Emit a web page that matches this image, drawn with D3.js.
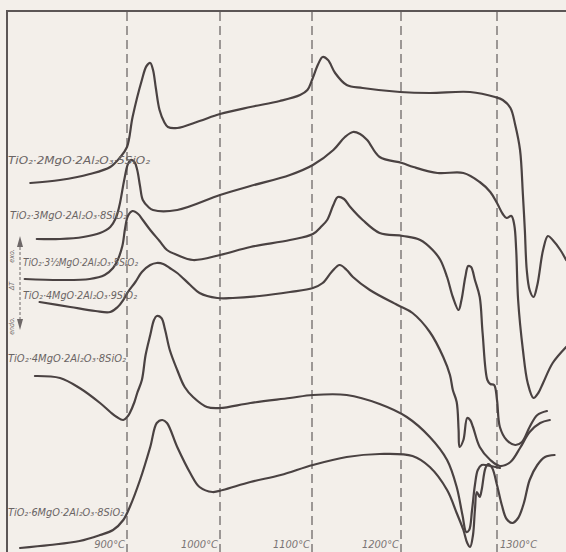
<!DOCTYPE html>
<html>
<head>
<meta charset="utf-8">
<script src="https://cdn.jsdelivr.net/npm/d3@7"></script>
<style>
  html, body { margin: 0; padding: 0; background: #f3efea; }
  svg { display: block; }
</style>
</head>
<body>
<div id="chart"></div>
<script>
// temperature grid (dashed lines) and their labels
var tempTicks = [900, 1000, 1100, 1200, 1300];
var tickLabels = ['900°C', '1000°C', '1100°C', '1200°C', '1300°C'];

// sample names, top to bottom
var sampleNames = [
  'TiO₂·2MgO·2Al₂O₃·5SiO₂',
  'TiO₂·3MgO·2Al₂O₃·8SiO₂',
  'TiO₂·3½MgO·2Al₂O₃·5SiO₂',
  'TiO₂·4MgO·2Al₂O₃·9SiO₂',
  'TiO₂·4MgO·2Al₂O₃·8SiO₂',
  'TiO₂·6MgO·2Al₂O₃·8SiO₂'
];

// DTA traces: temperature (°C) and pen deflection (chart units, up = exo)
var c1T = [796, 828, 860, 882, 892, 900, 906, 916, 921, 925, 928, 931, 935, 940, 944, 954, 978, 1000, 1033, 1065, 1087, 1095, 1100, 1107, 1112, 1118, 1126, 1139, 1157, 1199, 1230, 1272, 1298, 1306, 1314, 1319, 1324, 1327, 1329, 1331, 1334, 1338, 1342, 1348, 1353, 1358, 1366, 1372];
var c1V = [369, 372, 378, 385, 394, 405, 435, 472, 486, 489, 482, 464, 442, 430, 425, 424, 431, 438, 445, 451, 457, 462, 472, 488, 495, 492, 479, 467, 464, 460, 459, 460, 455, 452, 444, 427, 402, 357, 322, 282, 262, 255, 267, 302, 316, 312, 302, 292];

var c2T = [803, 828, 853, 871, 882, 888, 892, 897, 901, 904, 908, 911, 914, 917, 923, 928, 954, 1000, 1033, 1076, 1101, 1124, 1137, 1146, 1154, 1162, 1176, 1201, 1213, 1238, 1265, 1282, 1293, 1300, 1306, 1310, 1315, 1318, 1320, 1322, 1327, 1332, 1338, 1343, 1348, 1358, 1372];
var c2V = [313, 313, 315, 319, 325, 334, 347, 372, 388, 392, 390, 382, 366, 352, 345, 342, 342, 357, 366, 377, 387, 402, 415, 420, 418, 412, 395, 389, 385, 379, 379, 370, 360, 349, 338, 334, 336, 327, 302, 252, 202, 169, 154, 159, 169, 189, 205];

var c3T = [790, 828, 860, 876, 885, 890, 895, 898, 901, 906, 912, 917, 925, 935, 943, 954, 971, 1000, 1033, 1076, 1101, 1111, 1117, 1124, 1129, 1136, 1143, 1157, 1176, 1202, 1220, 1233, 1241, 1248, 1254, 1260, 1263, 1267, 1270, 1273, 1277, 1282, 1285, 1290, 1293, 1297, 1300, 1303, 1310, 1319, 1326, 1334, 1342, 1352];
var c3V = [273, 272, 273, 277, 284, 292, 306, 324, 336, 341, 338, 332, 322, 311, 302, 297, 292, 297, 305, 312, 318, 326, 332, 347, 355, 353, 345, 332, 319, 316, 312, 302, 292, 275, 255, 242, 252, 275, 286, 285, 272, 255, 219, 172, 168, 167, 152, 125, 112, 107, 110, 125, 137, 141];

var c4T = [806, 839, 866, 882, 890, 896, 901, 909, 916, 925, 932, 939, 946, 954, 968, 978, 997, 1014, 1043, 1076, 1101, 1112, 1122, 1131, 1139, 1146, 1165, 1196, 1212, 1230, 1244, 1251, 1254, 1258, 1260, 1261, 1265, 1269, 1272, 1275, 1282, 1293, 1303, 1314, 1324, 1334, 1345, 1355];
var c4V = [250, 245, 241, 240, 245, 252, 260, 270, 280, 287, 289, 288, 284, 279, 267, 259, 254, 254, 256, 260, 264, 269, 280, 287, 282, 275, 262, 247, 239, 220, 195, 177, 162, 150, 122, 105, 112, 134, 132, 125, 105, 92, 86, 90, 104, 120, 129, 132];

var c5T = [801, 828, 849, 871, 882, 889, 896, 901, 903, 908, 911, 916, 920, 925, 929, 932, 937, 941, 946, 954, 962, 971, 986, 1000, 1033, 1076, 1101, 1139, 1176, 1206, 1230, 1248, 1258, 1264, 1268, 1271, 1274, 1277, 1280, 1284, 1293, 1303];
var c5V = [176, 174, 164, 149, 140, 135, 132, 136, 139, 150, 159, 172, 197, 217, 232, 236, 234, 222, 202, 182, 165, 155, 145, 144, 149, 154, 157, 157, 148, 135, 115, 92, 65, 37, 20, 22, 42, 67, 82, 87, 86, 84];

var c6T = [785, 817, 849, 871, 885, 896, 903, 914, 925, 932, 938, 943, 954, 968, 978, 992, 1003, 1033, 1066, 1101, 1139, 1176, 1212, 1230, 1248, 1258, 1265, 1269, 1272, 1275, 1277, 1279, 1282, 1284, 1288, 1291, 1295, 1300, 1305, 1310, 1316, 1322, 1328, 1334, 1342, 1350, 1360];
var c6V = [4, 7, 11, 17, 22, 32, 45, 72, 105, 129, 132, 129, 105, 79, 65, 60, 62, 70, 77, 87, 95, 98, 96, 85, 62, 39, 22, 9, 5, 17, 42, 60, 55, 62, 84, 88, 84, 67, 47, 33, 29, 34, 49, 72, 87, 95, 97];

var width = 566;
var height = 552;
var ink = '#4a4242';
var grey = '#6e6868';

var svg = d3.select('#chart')
            .append('svg')
            .attr('width', width)
            .attr('height', height);

svg.append('rect')
   .attr('width', width)
   .attr('height', height)
   .attr('fill', '#f3efea');

// the printed temperature axis is not quite even, so use a polylinear scale
var xScale = d3.scaleLinear()
               .domain(tempTicks)
               .range([127, 220, 312, 401, 497]);

var yScale = d3.scaleLinear()
               .domain([0, 541])
               .range([552, 11]);

// frame (left and top edge of the plate)
svg.append('path')
   .attr('d', `M7,${height} V11 H${width}`)
   .attr('fill', 'none')
   .attr('stroke', '#5c5656')
   .attr('stroke-width', 2);

// dashed temperature lines
svg.selectAll('line.grid')
   .data(tempTicks)
   .enter()
   .append('line')
   .attr('class', 'grid')
   .attr('x1', d => xScale(d))
   .attr('x2', d => xScale(d))
   .attr('y1', 12)
   .attr('y2', height)
   .attr('stroke', grey)
   .attr('stroke-width', 1.3)
   .attr('stroke-dasharray', '9,5');

// temperature labels: left of the line, the last one right of it
svg.selectAll('text.tick')
   .data(tempTicks)
   .enter()
   .append('text')
   .attr('class', 'tick')
   .attr('x', (d, i) => i === tempTicks.length - 1 ? xScale(d) + 3 : xScale(d) - 2)
   .attr('y', 548)
   .attr('text-anchor', (d, i) => i === tempTicks.length - 1 ? 'start' : 'end')
   .attr('font-family', 'DejaVu Sans Condensed, DejaVu Sans, sans-serif')
   .attr('font-style', 'italic')
   .attr('font-size', 11)
   .attr('fill', '#7a7474')
   .text((d, i) => tickLabels[i]);

// curves
var traces = [[c1T, c1V], [c2T, c2V], [c3T, c3V], [c4T, c4V], [c5T, c5V], [c6T, c6V]];

var line = d3.line()
             .x(d => xScale(d[0]))
             .y(d => yScale(d[1]))
             .curve(d3.curveCatmullRom.alpha(0.5));

svg.selectAll('path.trace')
   .data(traces)
   .enter()
   .append('path')
   .attr('class', 'trace')
   .attr('d', d => line(d3.zip(d[0], d[1])))
   .attr('fill', 'none')
   .attr('stroke', ink)
   .attr('stroke-width', 2.2)
   .attr('stroke-linejoin', 'round')
   .attr('stroke-linecap', 'round');

// sample labels (hand lettered, squeezed to their printed width)
var labelPos = [[8, 164, 142], [10, 219, 117], [23, 266, 115], [23, 299, 114], [8, 362, 118], [8, 516, 116]];

svg.selectAll('text.sample')
   .data(sampleNames)
   .enter()
   .append('text')
   .attr('class', 'sample')
   .attr('x', (d, i) => labelPos[i][0])
   .attr('y', (d, i) => labelPos[i][1])
   .attr('textLength', (d, i) => labelPos[i][2])
   .attr('lengthAdjust', 'spacingAndGlyphs')
   .attr('font-family', 'DejaVu Sans Condensed, DejaVu Sans, sans-serif')
   .attr('font-style', 'italic')
   .attr('font-size', 10)
   .attr('fill', '#6a6464')
   .text(d => d);

// exo / endo marker on the left
var marker = svg.append('g').attr('fill', grey).attr('stroke', grey);
marker.append('line')
      .attr('x1', 20).attr('x2', 20)
      .attr('y1', 242).attr('y2', 324)
      .attr('stroke-width', 1)
      .attr('stroke-dasharray', '3,2');
marker.append('path')
      .attr('d', 'M20,236 L17,247 L23,247 Z')
      .attr('stroke', 'none');
marker.append('path')
      .attr('d', 'M20,330 L17,319 L23,319 Z')
      .attr('stroke', 'none');
[['exo.', 256], ['ΔT', 286], ['endo.', 326]].forEach(t => {
  marker.append('text')
        .attr('transform', `translate(14,${t[1]}) rotate(-90)`)
        .attr('text-anchor', 'middle')
        .attr('font-family', 'DejaVu Sans Condensed, DejaVu Sans, sans-serif')
        .attr('font-style', 'italic')
        .attr('font-size', 7)
        .attr('stroke', 'none')
        .text(t[0]);
});
</script>
</body>
</html>
